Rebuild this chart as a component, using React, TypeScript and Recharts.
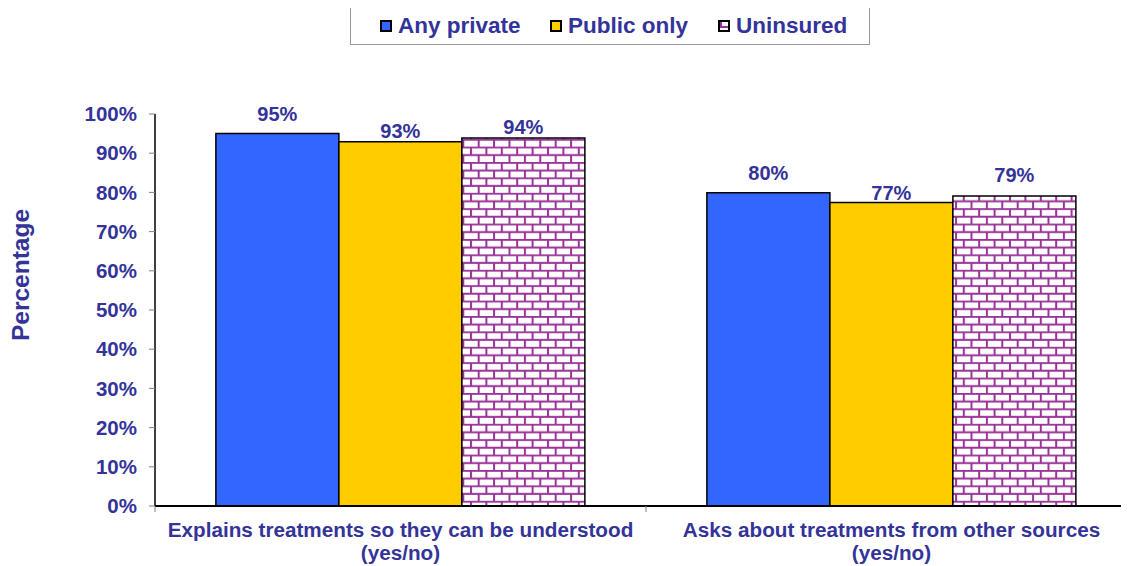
import React from 'react';
import { BarChart, Bar, XAxis, YAxis, Legend, LabelList } from 'recharts';

const categories = ['Explains treatments so they can be understood\n(yes/no)', 'Asks about treatments from other sources\n(yes/no)'];
const anyPrivate = [95.0, 79.9];
const publicOnly = [92.9, 77.4];
const uninsured = [93.9, 79.1];
const yTicks = [0, 10, 20, 30, 40, 50, 60, 70, 80, 90, 100];
const seriesNames = ['Any private', 'Public only', 'Uninsured'];

// label gap above each bar (per series, per category), as placed in the original
const labelGaps = {
  anyPrivate: [13, 13],
  publicOnly: [4, 2.5],
  uninsured: [4, 14],
};

const data = categories.map((c, i) => ({
  name: c,
  anyPrivate: anyPrivate[i],
  publicOnly: publicOnly[i],
  uninsured: uninsured[i],
}));

const TEXT = '#333399';
const FONT = '"Liberation Sans", Arial, sans-serif';
const BLUE = '#3366FF';
const YELLOW = '#FFCC00';
const PURPLE = '#993399';

const XTick = (props: any) => {
  const { x, y, payload, index, visibleTicksCount } = props;
  const off = payload.offset || 0;
  const lines = String(payload.value).split('\n');
  return (
    <g>
      <line x1={x - off} x2={x - off} y1={y} y2={y + 6} stroke="#808080" strokeWidth={1} />
      {index === visibleTicksCount - 1 && (
        <line x1={x + off} x2={x + off} y1={y} y2={y + 6} stroke="#808080" strokeWidth={1} />
      )}
      {lines.map((l, i) => (
        <text key={i} x={x} y={y + 31 + i * 23} textAnchor="middle" fill={TEXT}
          fontFamily={FONT} fontWeight="bold" fontSize={20.7}>{l}</text>
      ))}
    </g>
  );
};

const legendIconLeft = [29, 199, 367];

const renderLegend = () => {
  const fills = [BLUE, YELLOW, 'url(#brickLegend)'];
  return (
    <div style={{
      position: 'relative', width: 520, height: 38, border: '1px solid #999', background: '#fff',
      fontFamily: FONT, fontWeight: 'bold', fontSize: 22.5, color: TEXT, boxSizing: 'border-box',
    }}>
      {seriesNames.map((n, i) => (
        <div key={n} style={{ position: 'absolute', left: legendIconLeft[i], top: 0, height: 36, display: 'flex', alignItems: 'center', whiteSpace: 'nowrap' }}>
          <svg width={12} height={12} style={{ marginRight: 6 }}>
            <rect x={1} y={1} width={10} height={10} fill={fills[i]} stroke="#000" strokeWidth={2} />
          </svg>
          <span>{n}</span>
        </div>
      ))}
    </div>
  );
};

const YLabel = (props: any) => {
  const { viewBox } = props;
  const cx = 12;
  const cy = viewBox.y + viewBox.height / 2 - 35;
  return (
    <text x={cx} y={cy} transform={`rotate(-90 ${cx} ${cy})`} textAnchor="middle"
      dominantBaseline="central" fill={TEXT} fontFamily={FONT} fontWeight="bold" fontSize={24.5}>
      Percentage
    </text>
  );
};

const makeLabel = (key: keyof typeof labelGaps) => (props: any) => {
  const { x, y, width, value, index } = props;
  const gap = labelGaps[key][index] ?? 8;
  return (
    <text x={x + width / 2} y={y - gap} textAnchor="middle" fill={TEXT}
      fontFamily={FONT} fontWeight="bold" fontSize={20}>
      {`${Math.round(Number(value))}%`}
    </text>
  );
};

export default function App() {
  return (
    <div style={{ width: 1121, height: 558, overflow: 'hidden' }}>
      <BarChart width={1130} height={558} data={data}
        margin={{ top: 68, right: 1, bottom: 0, left: 0 }}
        barCategoryGap="12.4%" barGap={0}>
        <defs>
          <pattern id="brick" patternUnits="userSpaceOnUse" width={15.4} height={15.4}>
            <rect x={0} y={0} width={15.4} height={15.4} fill="#fff" />
            <line x1={0} x2={15.4} y1={0.8} y2={0.8} stroke={PURPLE} strokeWidth={2} />
            <line x1={0} x2={15.4} y1={8.5} y2={8.5} stroke={PURPLE} strokeWidth={2} />
            <line x1={1} x2={1} y1={0} y2={8.5} stroke={PURPLE} strokeWidth={2} />
            <line x1={8.7} x2={8.7} y1={8.5} y2={15.4} stroke={PURPLE} strokeWidth={2} />
          </pattern>
          <pattern id="brickLegend" patternUnits="userSpaceOnUse" width={10} height={10}>
            <rect x={0} y={0} width={10} height={10} fill="#fff" />
            <line x1={0} x2={10} y1={7} y2={7} stroke={PURPLE} strokeWidth={2} />
            <line x1={3} x2={3} y1={0} y2={7} stroke={PURPLE} strokeWidth={2} />
          </pattern>
        </defs>
        <Legend verticalAlign="top" content={renderLegend}
          wrapperStyle={{ position: 'absolute', top: -1, left: 342, width: 520, height: 38 }} />
        <XAxis dataKey="name" axisLine={{ stroke: '#000', strokeWidth: 2 }} tickLine={false}
          tickSize={0} tickMargin={0} height={60} interval={0} tick={<XTick />} />
        <YAxis type="number" domain={[0, 100]} ticks={yTicks} width={147}
          axisLine={{ stroke: '#000', strokeWidth: 1.5 }} tickLine={{ stroke: '#808080' }} tickSize={6}
          tickMargin={12} tickFormatter={(v: number) => `${v}%`}
          tick={{ fill: TEXT, fontFamily: FONT, fontWeight: 'bold', fontSize: 20.5 }}
          label={<YLabel />} />
        <Bar dataKey="anyPrivate" name={seriesNames[0]} fill={BLUE} stroke="#000" strokeWidth={1.5} isAnimationActive={false}>
          <LabelList dataKey="anyPrivate" content={makeLabel('anyPrivate')} />
        </Bar>
        <Bar dataKey="publicOnly" name={seriesNames[1]} fill={YELLOW} stroke="#000" strokeWidth={1.5} isAnimationActive={false}>
          <LabelList dataKey="publicOnly" content={makeLabel('publicOnly')} />
        </Bar>
        <Bar dataKey="uninsured" name={seriesNames[2]} fill="url(#brick)" stroke="#000" strokeWidth={1.5} isAnimationActive={false}>
          <LabelList dataKey="uninsured" content={makeLabel('uninsured')} />
        </Bar>
      </BarChart>
    </div>
  );
}
